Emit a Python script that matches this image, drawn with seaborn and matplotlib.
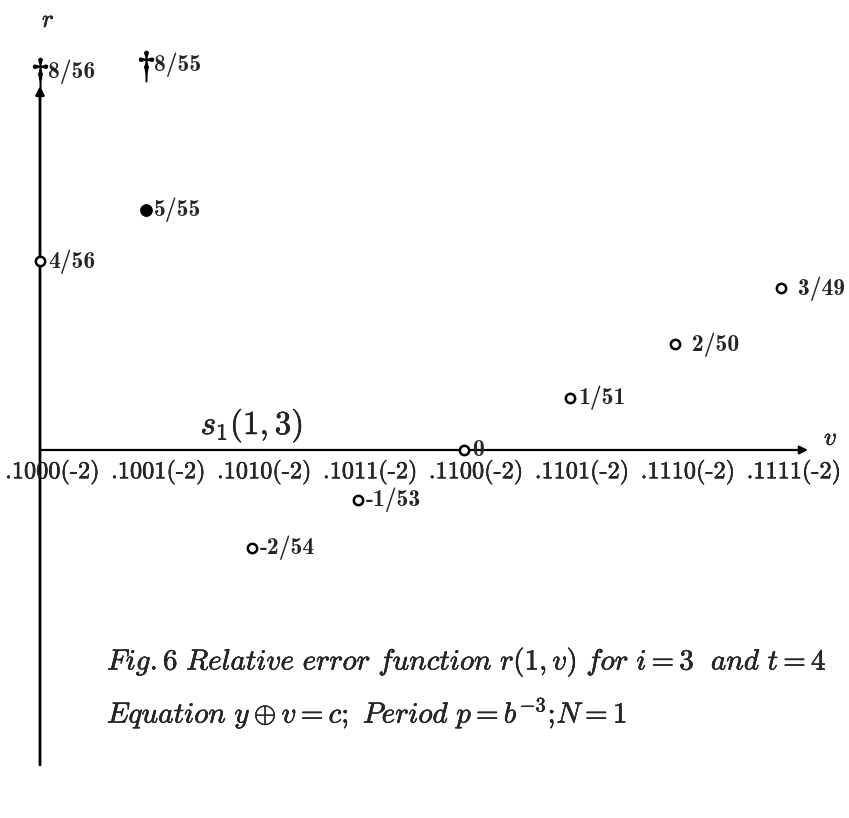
import numpy as np
import pandas as pd
import matplotlib
matplotlib.use("Agg")
import matplotlib.pyplot as plt
import matplotlib.patheffects as pe
import seaborn as sns

# abscissa: the eight mantissas of v
v_labels = ['.1000(-2)', '.1001(-2)', '.1010(-2)', '.1011(-2)',
            '.1100(-2)', '.1101(-2)', '.1110(-2)', '.1111(-2)']

# relative error r(1, v) = num / den at each v
r_num = [4, 5, -2, -1, 0, 1, 2, 3]
r_den = [56, 55, 54, 53, 52, 51, 50, 49]
point_kind = ['open', 'filled', 'open', 'open', 'open', 'open', 'open', 'open']
point_text = ['4/56', '5/55', '-2/54', '-1/53', '0', '1/51', ' 2/50', ' 3/49']

# values above the end of the r axis, marked with a dagger
off_pos = [0, 1]
off_num = [8, 8]
off_den = [56, 55]
off_text = ['8/56', '8/55']

caption_1 = (r'$\mathit{Fig.6\ Relative\ error\ function}\ r(1,v)\ '
             r'\mathit{for}\ i=3\ \ \mathit{and}\ t=4$')
caption_2 = (r'$\mathit{Equation}\ y\oplus v=c;\ \mathit{Period}\ '
             r'p=b^{-3};\!N=1$')

sns.set_style("white")
plt.rcParams["mathtext.fontset"] = "cm"

df = pd.DataFrame({
    "v": np.arange(len(v_labels)),
    "r": np.array(r_num) / np.array(r_den),
    "kind": point_kind,
    "text": point_text,
})
off = pd.DataFrame({
    "v": off_pos,
    "r": np.array(off_num) / np.array(off_den),
    "text": off_text,
})

fig = plt.figure(figsize=(8.49, 8.18), dpi=100)
ax = fig.add_axes([0, 0, 1, 1])

# pixel-like scaling: 105.9 px per step of v, 2640 px per unit of r
xs, ys = 105.9, 2640.0
ax.set_xlim(-40 / xs, (849 - 40) / xs)
ax.set_ylim(-(818 - 450) / ys, 450 / ys)

ink = [pe.withStroke(linewidth=0.35, foreground="black")]

# axes with arrowheads
ax.annotate("", xy=(0, (450 - 86) / ys), xytext=(0, -(765 - 450) / ys),
            arrowprops=dict(arrowstyle="-|>", lw=2.0, color="black",
                            mutation_scale=12, shrinkA=0, shrinkB=0))
ax.annotate("", xy=((808 - 40) / xs, 0), xytext=(0, 0),
            arrowprops=dict(arrowstyle="-|>", lw=1.6, color="black",
                            mutation_scale=12, shrinkA=0, shrinkB=0))
ax.text((42 - 40) / xs, (450 - 20) / ys, r"$r$", fontsize=18,
        ha="left", va="center", path_effects=ink)
ax.text((824 - 40) / xs, (450 - 438) / ys, r"$v$", fontsize=18,
        ha="left", va="center", path_effects=ink)

# points
sns.scatterplot(data=df[df.kind == "open"], x="v", y="r", marker="o", s=45,
                color="white", edgecolor="black", linewidth=1.8,
                ax=ax, zorder=4)
sns.scatterplot(data=df[df.kind == "filled"], x="v", y="r", marker="o", s=75,
                color="black", edgecolor="black", linewidth=0.5,
                ax=ax, zorder=4)
sns.scatterplot(data=off, x="v", y="r", marker=r"$\dagger$", s=480,
                color="black", edgecolor="black", linewidth=0.9,
                ax=ax, zorder=4)

lab = dict(fontfamily="cmb10", fontsize=17, va="center", ha="left",
           textcoords="offset points")
for _, row in df.iterrows():
    ax.annotate(row["text"], (row["v"], row["r"]), xytext=(6, 0), **lab)
for _, row in off.iterrows():
    ax.annotate(row["text"], (row["v"], row["r"]), xytext=(6, 1), **lab)

# tick labels along v
for i, t in enumerate(v_labels):
    ax.annotate(t, (i, 0), xytext=(9, -16), textcoords="offset points",
                ha="center", va="center", fontfamily="cmr10", fontsize=17.5,
                path_effects=ink)

ax.annotate(r"$s_1(1,3)$", (2, 0), xytext=(0, 4), textcoords="offset points",
            ha="center", va="bottom", fontsize=24, path_effects=ink)

# caption
fig.text(107 / 849, 1 - 662 / 818, caption_1, fontsize=21,
         ha="left", va="center", path_effects=ink)
fig.text(107 / 849, 1 - 713 / 818, caption_2, fontsize=21,
         ha="left", va="center", path_effects=ink)

ax.set_xlabel("")
ax.set_ylabel("")
ax.axis("off")

fig.savefig("out.png", dpi=100)
